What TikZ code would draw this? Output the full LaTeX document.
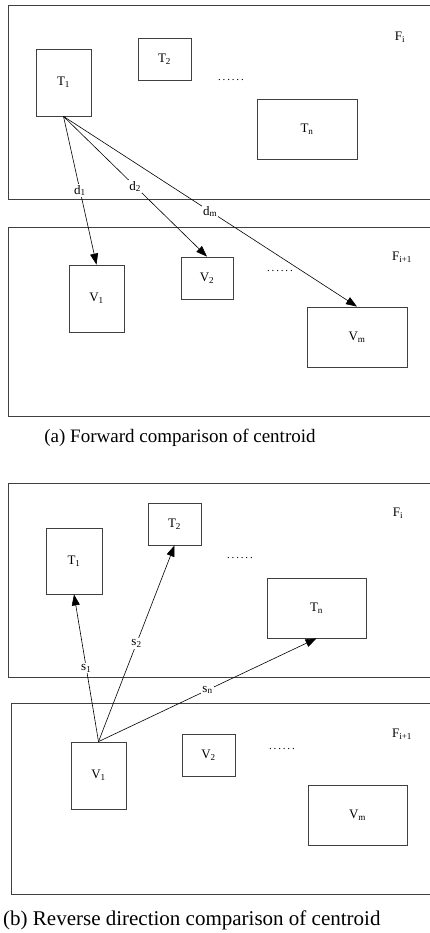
\documentclass[tikz,border=0pt]{standalone}
\usepackage{fontspec}
\setmainfont{Liberation Serif}
\usetikzlibrary{arrows.meta}
\tikzset{
  frm/.style={draw=black!75, line width=0.8pt},
  blob/.style={draw=black!75, line width=0.8pt, inner sep=0pt,
               font=\fontsize{13}{15}\selectfont},
  tag/.style={inner sep=0pt, font=\fontsize{13}{15}\selectfont},
  dots/.style={inner sep=0pt, font=\fontsize{11}{13}\selectfont},
  arr/.style={-{Triangle[length=11pt, width=8pt]}, line width=0.6pt},
  lab/.style={fill=white, inner sep=1.2pt, font=\fontsize{13}{15}\selectfont},
  captxt/.style={inner sep=0pt},
}
\newcommand{\dotrow}{.\,.\,.\,.\,.\,.}

\begin{document}
\begin{tikzpicture}[x=1pt, y=-1pt]
\useasboundingbox (0,0) rectangle (430,933);

% ---- (a) forward
\draw[frm] (8,5) rectangle (440,199);
\draw[frm] (8,227) rectangle (440,416);

\node[blob, minimum width=55pt, minimum height=67pt] (t1) at (63.5,82.5) {T\textsubscript{1}};
\node[blob, minimum width=53pt, minimum height=42pt] (t2) at (164.5,59) {T\textsubscript{2}};
\node[dots] (da) at (231,80) {\dotrow};
\node[blob, minimum width=100pt, minimum height=60pt] (tn) at (307,129) {T\textsubscript{n}};
\node[tag] (fa) at (400,37) {F\textsubscript{i}};

\node[blob, minimum width=55pt, minimum height=67pt] (v1) at (96.5,298.5) {V\textsubscript{1}};
\node[blob, minimum width=52pt, minimum height=42pt] (v2) at (207,278) {V\textsubscript{2}};
\node[dots] (dv) at (280,271) {\dotrow};
\node[blob, minimum width=100pt, minimum height=60pt] (vm) at (357,337) {V\textsubscript{m}};
\node[tag] (fb) at (402,257) {F\textsubscript{i+1}};

\foreach \a/\b/\l in {t1/v1/{d\textsubscript{1}}, t1/v2/{d\textsubscript{2}},
                      t1/vm/{d\textsubscript{m}}}
  \draw[arr] (\a.south) -- node[lab, pos=0.5] {\l} (\b.north);

\node[captxt, font=\fontsize{19}{22}\selectfont] (capa) at (180,438)
  {(a) Forward comparison of centroid};

% ---- (b) reverse
\draw[frm] (8,483) rectangle (440,677);
\draw[frm] (11,703) rectangle (440,894);

\node[blob, minimum width=56pt, minimum height=66pt] (bt1) at (74,561) {T\textsubscript{1}};
\node[blob, minimum width=53pt, minimum height=42pt] (bt2) at (174.5,524) {T\textsubscript{2}};
\node[dots] (bda) at (240,558) {\dotrow};
\node[blob, minimum width=99pt, minimum height=60pt] (btn) at (316.5,608) {T\textsubscript{n}};
\node[tag] (bfa) at (398,513) {F\textsubscript{i}};

\node[blob, minimum width=55pt, minimum height=67pt] (bv1) at (98.5,775.5) {V\textsubscript{1}};
\node[blob, minimum width=53pt, minimum height=42pt] (bv2) at (208.5,755) {V\textsubscript{2}};
\node[dots] (bdv) at (282,749) {\dotrow};
\node[blob, minimum width=99pt, minimum height=60pt] (bvm) at (357.5,815) {V\textsubscript{m}};
\node[tag] (bfb) at (402,734) {F\textsubscript{i+1}};

\foreach \a/\b/\l in {bv1/bt1/{s\textsubscript{1}}, bv1/bt2/{s\textsubscript{2}},
                      bv1/btn/{s\textsubscript{n}}}
  \draw[arr] (\a.north) -- node[lab, pos=0.5] {\l} (\b.south);

\node[captxt, anchor=west, font=\fontsize{21}{24}\selectfont] (capb) at (3,920)
  {(b) Reverse direction comparison of centroid};

\end{tikzpicture}
\end{document}
